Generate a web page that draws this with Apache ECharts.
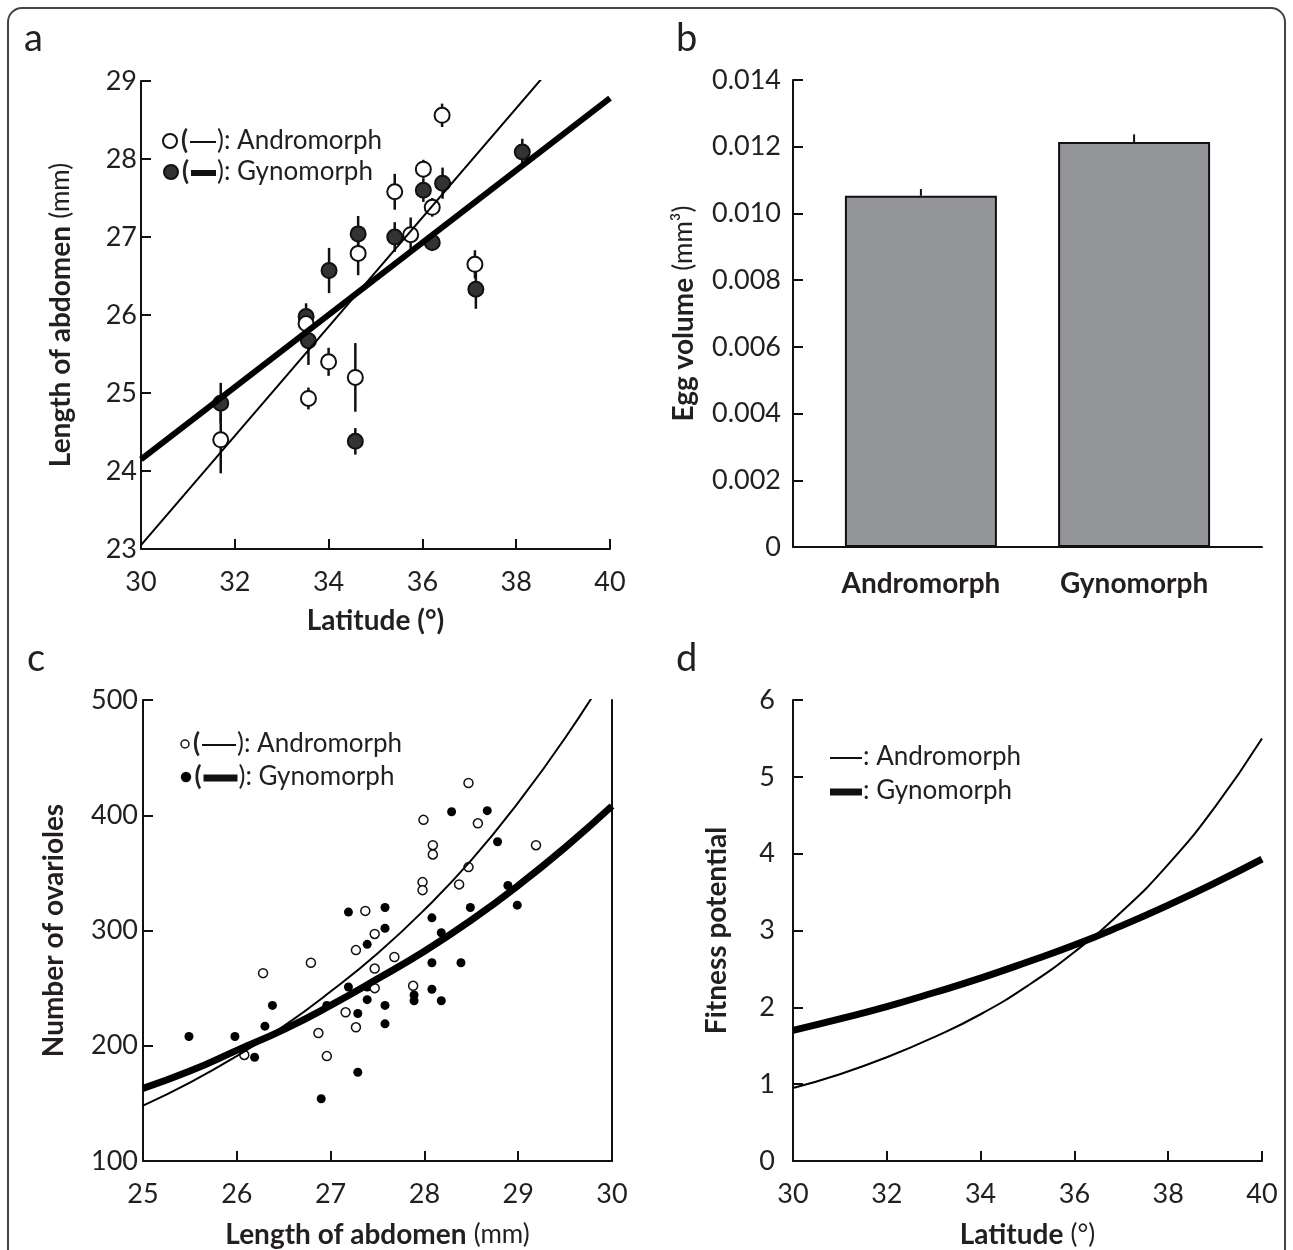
<!DOCTYPE html>
<html>
<head>
<meta charset="utf-8">
<script src="https://cdn.jsdelivr.net/npm/echarts@6/dist/echarts.min.js"></script>
<style>
html,body{margin:0;padding:0;background:#fff}
#main{width:1293px;height:1250px}
</style>
</head>
<body>
<div id="main"></div>
<script>
// ---- panel a : abdomen length vs latitude (population means, half error bar)
var aLatAndro = [31.70, 33.52, 33.57, 34.00, 34.57, 34.63, 35.41, 35.75, 36.02, 36.21, 36.42, 37.12];
var aLenAndro = [24.40, 25.89, 24.93, 25.40, 25.20, 26.79, 27.58, 27.03, 27.87, 27.38, 28.56, 26.65];
var aErrAndro = [0.43, 0.10, 0.14, 0.18, 0.44, 0.28, 0.23, 0.22, 0.12, 0.12, 0.15, 0.18];
var aLatGyno = [31.70, 33.52, 33.57, 34.01, 34.57, 34.63, 35.41, 36.02, 36.21, 36.43, 37.14, 38.13];
var aLenGyno = [24.87, 25.98, 25.67, 26.57, 24.38, 27.04, 27.00, 27.60, 26.93, 27.69, 26.33, 28.09];
var aErrGyno = [0.26, 0.17, 0.31, 0.29, 0.17, 0.23, 0.19, 0.15, 0.11, 0.20, 0.25, 0.17];
var aFitLat = [30, 40];
var aFitAndro = [23.05, 30.05];
var aFitGyno = [24.15, 28.78];

// ---- panel b : egg volume
var bMorphs = ['Andromorph', 'Gynomorph'];
var bVolume = [0.01053, 0.01214];
var bVolErr = [0.0002, 0.00023];

// ---- panel c : ovarioles vs abdomen length (individuals)
var cLenAndro = [26.08, 26.28, 26.79, 26.87, 26.96, 27.16, 27.27, 27.27, 27.37, 27.47, 27.47, 27.47,
                 27.68, 27.88, 27.98, 27.98, 27.99, 28.09, 28.09, 28.37, 28.47, 28.47, 28.57, 29.19];
var cOvAndro = [192, 263, 272, 211, 191, 229, 216, 283, 317, 297, 267, 250,
                277, 252, 342, 335, 396, 374, 366, 340, 355, 428, 393, 374];
var cLenGyno = [25.49, 25.98, 26.19, 26.30, 26.38, 26.90, 26.96, 27.19, 27.19, 27.29, 27.29, 27.39,
                27.39, 27.39, 27.58, 27.58, 27.58, 27.58, 27.89, 27.89, 28.08, 28.08, 28.08, 28.18,
                28.18, 28.29, 28.39, 28.49, 28.67, 28.78, 28.89, 28.99];
var cOvGyno = [208, 208, 190, 217, 235, 154, 235, 316, 251, 228, 177, 288,
               251, 240, 320, 302, 235, 219, 244, 239, 311, 272, 249, 298,
               239, 403, 272, 320, 404, 377, 339, 322];
var cCurveLen = [25, 25.5, 26, 26.5, 27, 27.5, 28, 28.5, 29, 29.5, 30];
var cCurveAndro = [148, 168, 191, 217, 247, 280, 318, 361, 411, 467, 530];
var cCurveGyno = [163, 178, 196, 214, 235, 258, 282, 309, 339, 372, 408];

// ---- panel d : fitness potential vs latitude
var dLat = [30, 31, 32, 33, 34, 35, 36, 37, 38, 39, 40];
var dAndro = [0.95, 1.13, 1.35, 1.61, 1.91, 2.28, 2.72, 3.24, 3.86, 4.61, 5.50];
var dGyno = [1.70, 1.85, 2.01, 2.19, 2.38, 2.59, 2.81, 3.06, 3.33, 3.62, 3.93];

var FONT = 'Lato';
var INK = '#231f20';

function zip(x, y) {
  return x.map(function (v, i) { return [v, y[i]]; });
}

function axis(gi, o) {
  var base = {
    gridIndex: gi,
    type: 'value',
    splitLine: { show: false },
    axisLine: { show: true, onZero: false, lineStyle: { color: '#111', width: 2 } },
    axisTick: { show: true, inside: true, length: 10, lineStyle: { color: '#111', width: 2 } },
    axisLabel: { fontFamily: FONT, fontSize: 27, color: INK },
    nameLocation: 'middle',
    nameTextStyle: {
      fontFamily: FONT, fontSize: 28, color: INK,
      rich: {
        b: { fontFamily: FONT, fontSize: 28, fontWeight: 'bold', color: INK },
        n: { fontFamily: FONT, fontSize: 26, color: INK }
      }
    }
  };
  for (var k in o) {
    if (k === 'axisLabel') { for (var j in o[k]) base.axisLabel[j] = o[k][j]; }
    else base[k] = o[k];
  }
  return base;
}

// vertical error bar: from y-e to y+e (or y to y+e when up only)
function errBars(gi, x, y, e, upOnly, width) {
  return {
    type: 'custom', xAxisIndex: gi, yAxisIndex: gi, z: 1, silent: true,
    data: x.map(function (v, i) { return [v, y[i], e[i]]; }),
    renderItem: function (params, api) {
      var lo = upOnly ? api.value(1) : api.value(1) - api.value(2);
      var p1 = api.coord([api.value(0), lo]);
      var p2 = api.coord([api.value(0), api.value(1) + api.value(2)]);
      return {
        type: 'line',
        shape: { x1: p1[0], y1: p1[1], x2: p2[0], y2: p2[1] },
        style: { stroke: '#111', lineWidth: width }
      };
    }
  };
}

function scatter(gi, x, y, size, open, fill) {
  return {
    type: 'scatter', xAxisIndex: gi, yAxisIndex: gi, z: open ? 4 : 3,
    data: zip(x, y), symbol: 'circle', symbolSize: size,
    itemStyle: open
      ? { color: '#fff', borderColor: '#111', borderWidth: size > 10 ? 2 : 1.5, opacity: 1 }
      : { color: fill, borderColor: '#111', borderWidth: size > 10 ? 2 : 0, opacity: 1 }
  };
}

function curve(gi, x, y, w) {
  return {
    type: 'line', xAxisIndex: gi, yAxisIndex: gi, z: 6,
    data: zip(x, y), smooth: true, showSymbol: false, symbol: 'none',
    lineStyle: { color: '#000', width: w }
  };
}

var txt = function (x, y, s, size, weight) {
  return { type: 'text', left: x, top: y, style: { text: s, fontFamily: FONT, fontSize: size, fontWeight: weight || 'normal', fill: INK } };
};

function legendRow(x, y, r, filled, lineLen, lineW, label, paren) {
  var els = [];
  var cx = x;
  if (r) {
    els.push({ type: 'circle', shape: { cx: cx, cy: y, r: r },
      style: { fill: filled || '#fff', stroke: '#111', lineWidth: r > 5 ? 2 : 1.5 } });
    cx += r + 4;
  }
  if (paren) { els.push({ type: 'text', x: cx, y: y, style: { text: '(', fontFamily: FONT, fontSize: 26, fontWeight: 'bold', fill: INK, verticalAlign: 'middle' } }); cx += 9; }
  els.push({ type: 'line', shape: { x1: cx, y1: y + 1, x2: cx + lineLen, y2: y + 1 }, style: { stroke: '#111', lineWidth: lineW } });
  cx += lineLen + 1;
  els.push({ type: 'text', x: cx, y: y, style: { text: (paren ? ')' : '') + ': ' + label, fontFamily: FONT, fontSize: 26, fill: INK, verticalAlign: 'middle' } });
  return els;
}

var graphics = [
  { type: 'rect', shape: { x: 8, y: 8, width: 1277, height: 1275, r: 14 }, style: { fill: 'none', stroke: '#444', lineWidth: 2 } },
  txt(24, 20, 'a', 38), txt(676, 20, 'b', 38), txt(27, 640, 'c', 38), txt(676, 640, 'd', 38)
];
graphics = graphics
  .concat(legendRow(170, 141, 7, null, 26, 2, 'Andromorph', true))
  .concat(legendRow(171, 172, 7, '#333', 25, 6, 'Gynomorph', true))
  .concat(legendRow(185, 744, 4, null, 34, 2, 'Andromorph', true))
  .concat(legendRow(186, 777, 4.5, '#000', 34, 7, 'Gynomorph', true))
  .concat(legendRow(830, 757, 0, null, 32, 2, 'Andromorph', false))
  .concat(legendRow(830, 791, 0, null, 32, 7, 'Gynomorph', false));

var option = {
  animation: false,
  backgroundColor: '#fff',
  grid: [
    { left: 141, top: 81, width: 469, height: 468 },
    { left: 793, top: 80, width: 469, height: 467 },
    { left: 143, top: 700, width: 469, height: 466 },
    { left: 793, top: 700, width: 469, height: 466 }
  ],
  xAxis: [
    axis(0, { min: 30, max: 40, interval: 2, axisLabel: { margin: 20 },
      name: '{b|Latitude (°)}', nameGap: 58 }),
    axis(1, { min: -0.6, max: 1.6, axisTick: { show: false },
      axisLabel: { margin: 23, fontWeight: 'bold', fontSize: 28, customValues: [0, 1],
        formatter: function (v) { return bMorphs[Math.round(v)]; } } }),
    axis(2, { min: 25, max: 30, interval: 1, axisLabel: { margin: 20 },
      name: '{b|Length of abdomen} {n|(mm)}', nameGap: 60 }),
    axis(3, { min: 30, max: 40, interval: 2, axisLabel: { margin: 20 },
      name: '{b|Latitude} {n|(°)}', nameGap: 60 })
  ],
  yAxis: [
    axis(0, { min: 23, max: 29, interval: 1, axisLabel: { margin: 4 },
      name: '{b|Length of abdomen} {n|(mm)}', nameGap: 66 }),
    axis(1, { min: 0, max: 0.014, interval: 0.002, axisLabel: { margin: 12,
        formatter: function (v) { return v === 0 ? '0' : v.toFixed(3); } },
      name: '{b|Egg volume} {n|(mm³)}', nameGap: 95 }),
    axis(2, { min: 100, max: 500, interval: 100, axisLabel: { margin: 5 },
      name: '{b|Number of ovarioles}', nameGap: 75 }),
    axis(3, { min: 0, max: 6, interval: 1, axisLabel: { margin: 18 },
      name: '{b|Fitness potential}', nameGap: 62 }),
    axis(2, { min: 100, max: 500, position: 'right', axisTick: { show: false }, axisLabel: { show: false } })
  ],
  graphic: graphics,
  series: [
    // a
    errBars(0, aLatGyno, aLenGyno, aErrGyno, false, 2.5),
    errBars(0, aLatAndro, aLenAndro, aErrAndro, false, 2.5),
    scatter(0, aLatGyno, aLenGyno, 15, false, '#333'),
    scatter(0, aLatAndro, aLenAndro, 15, true),
    curve(0, aFitLat, aFitAndro, 2),
    curve(0, aFitLat, aFitGyno, 6),
    // b
    {
      type: 'bar', xAxisIndex: 1, yAxisIndex: 1, z: 2, barWidth: 152,
      data: zip([0, 1], bVolume),
      itemStyle: { color: '#939598', borderColor: '#111', borderWidth: 2 }
    },
    errBars(1, [0, 1], bVolume, bVolErr, true, 2),
    // c
    scatter(2, cLenGyno, cOvGyno, 9, false, '#000'),
    scatter(2, cLenAndro, cOvAndro, 9, true),
    curve(2, cCurveLen, cCurveAndro, 2),
    curve(2, cCurveLen, cCurveGyno, 7),
    // d
    curve(3, dLat, dAndro, 2),
    curve(3, dLat, dGyno, 7)
  ]
};

var chart = echarts.init(document.getElementById('main'));
chart.setOption(option);
</script>
</body>
</html>
